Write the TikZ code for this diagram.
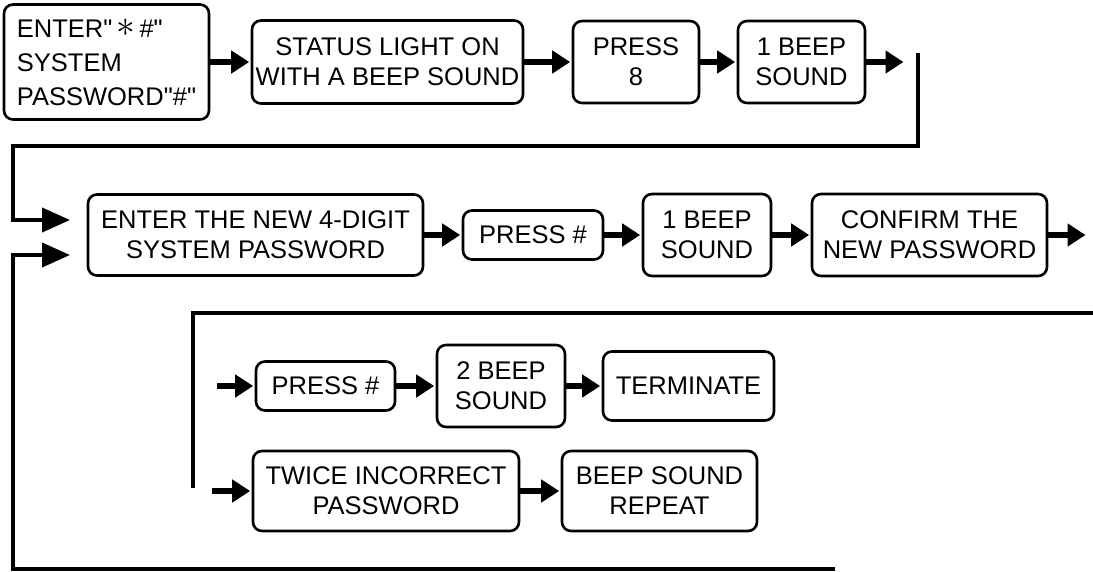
\documentclass[tikz,border=0pt]{standalone}
\usepackage{fontspec}
\setmainfont{Liberation Sans}[Ligatures=TeXOff]
\usetikzlibrary{arrows.meta}
\begin{document}
\begin{tikzpicture}[x=1pt,y=-1pt,
  box/.style={draw,line width=2.6pt,rounded corners=9pt,align=center,inner sep=0pt,
    font=\fontsize{25.5}{30}\selectfont},
  conn/.style={line width=6pt,shorten >=1.5pt,-{Triangle[length=18pt,width=22pt]}},
  loopline/.style={line width=4pt,line join=miter},
  looparrow/.style={line width=4pt,line join=miter,-{Triangle[length=28pt,width=24pt]}}]
\useasboundingbox (0,0) rectangle (1093,571);
% row 1
\node[box,minimum width=205pt,minimum height=115pt,align=left,
  font=\fontsize{25.5}{34}\selectfont] (A) at (106.5,62)
  {ENTER"\,\raisebox{1pt}{\scalebox{1.5}{$\ast$}}\,\#"\\SYSTEM\\PASSWORD"\#"};
\node[box,minimum width=271pt,minimum height=83pt] (B) at (387.5,62) {STATUS LIGHT ON\\WITH A BEEP SOUND};
\node[box,minimum width=126pt,minimum height=82pt] (C) at (636,62) {PRESS\\8};
\node[box,minimum width=127pt,minimum height=82pt] (D) at (801.5,62) {1 BEEP\\SOUND};
% row 2
\node[box,minimum width=335pt,minimum height=81pt] (E) at (255.5,235) {ENTER THE NEW 4-DIGIT\\SYSTEM PASSWORD};
\node[box,minimum width=140pt,minimum height=49pt] (F) at (533,235) {PRESS \#};
\node[box,minimum width=128pt,minimum height=82pt] (G) at (707,235) {1 BEEP\\SOUND};
\node[box,minimum width=235pt,minimum height=82pt] (H) at (929.5,235) {CONFIRM THE\\NEW PASSWORD};
% row 3
\node[box,minimum width=139pt,minimum height=49pt] (I) at (325.5,386) {PRESS \#};
\node[box,minimum width=128pt,minimum height=82pt] (J) at (501,386) {2 BEEP\\SOUND};
\node[box,minimum width=171pt,minimum height=69pt] (K) at (688.5,386) {TERMINATE};
\node[box,minimum width=266pt,minimum height=80pt] (L) at (386,491) {TWICE INCORRECT\\PASSWORD};
\node[box,minimum width=195pt,minimum height=80pt] (M) at (659.5,491) {BEEP SOUND\\REPEAT};
% free ends
\coordinate (d1) at (905,62);
\coordinate (r1) at (918,53);
\coordinate (r2) at (918,146);
\coordinate (l1) at (13,146);
\coordinate (l2) at (13,220);
\coordinate (e1) at (70,220);
\coordinate (b0) at (835,569);
\coordinate (b1) at (13,569);
\coordinate (b2) at (13,255);
\coordinate (e2) at (70,255);
\coordinate (h1) at (1087,235);
\coordinate (s0) at (1093,313);
\coordinate (s1) at (193,313);
\coordinate (s2) at (193,488);
\coordinate (i0) at (217,386);
\coordinate (l0) at (212,491);
% connectors
\draw[conn] (A.east) -- (B.west);
\draw[conn] (B.east) -- (C.west);
\draw[conn] (C.east) -- (D.west);
\draw[conn] (D.east) -- (d1);
\draw[looparrow] (r1) -- (r2) -- (l1) -- (l2) -- (e1);
\draw[looparrow] (b0) -- (b1) -- (b2) -- (e2);
\draw[conn] (E.east) -- (F.west);
\draw[conn] (F.east) -- (G.west);
\draw[conn] (G.east) -- (H.west);
\draw[conn] (H.east) -- (h1);
\draw[loopline] (s0) -- (s1) -- (s2);
\draw[conn] (i0) -- (I.west);
\draw[conn] (I.east) -- (J.west);
\draw[conn] (J.east) -- (K.west);
\draw[conn] (l0) -- (L.west);
\draw[conn] (L.east) -- (M.west);
\end{tikzpicture}
\end{document}
